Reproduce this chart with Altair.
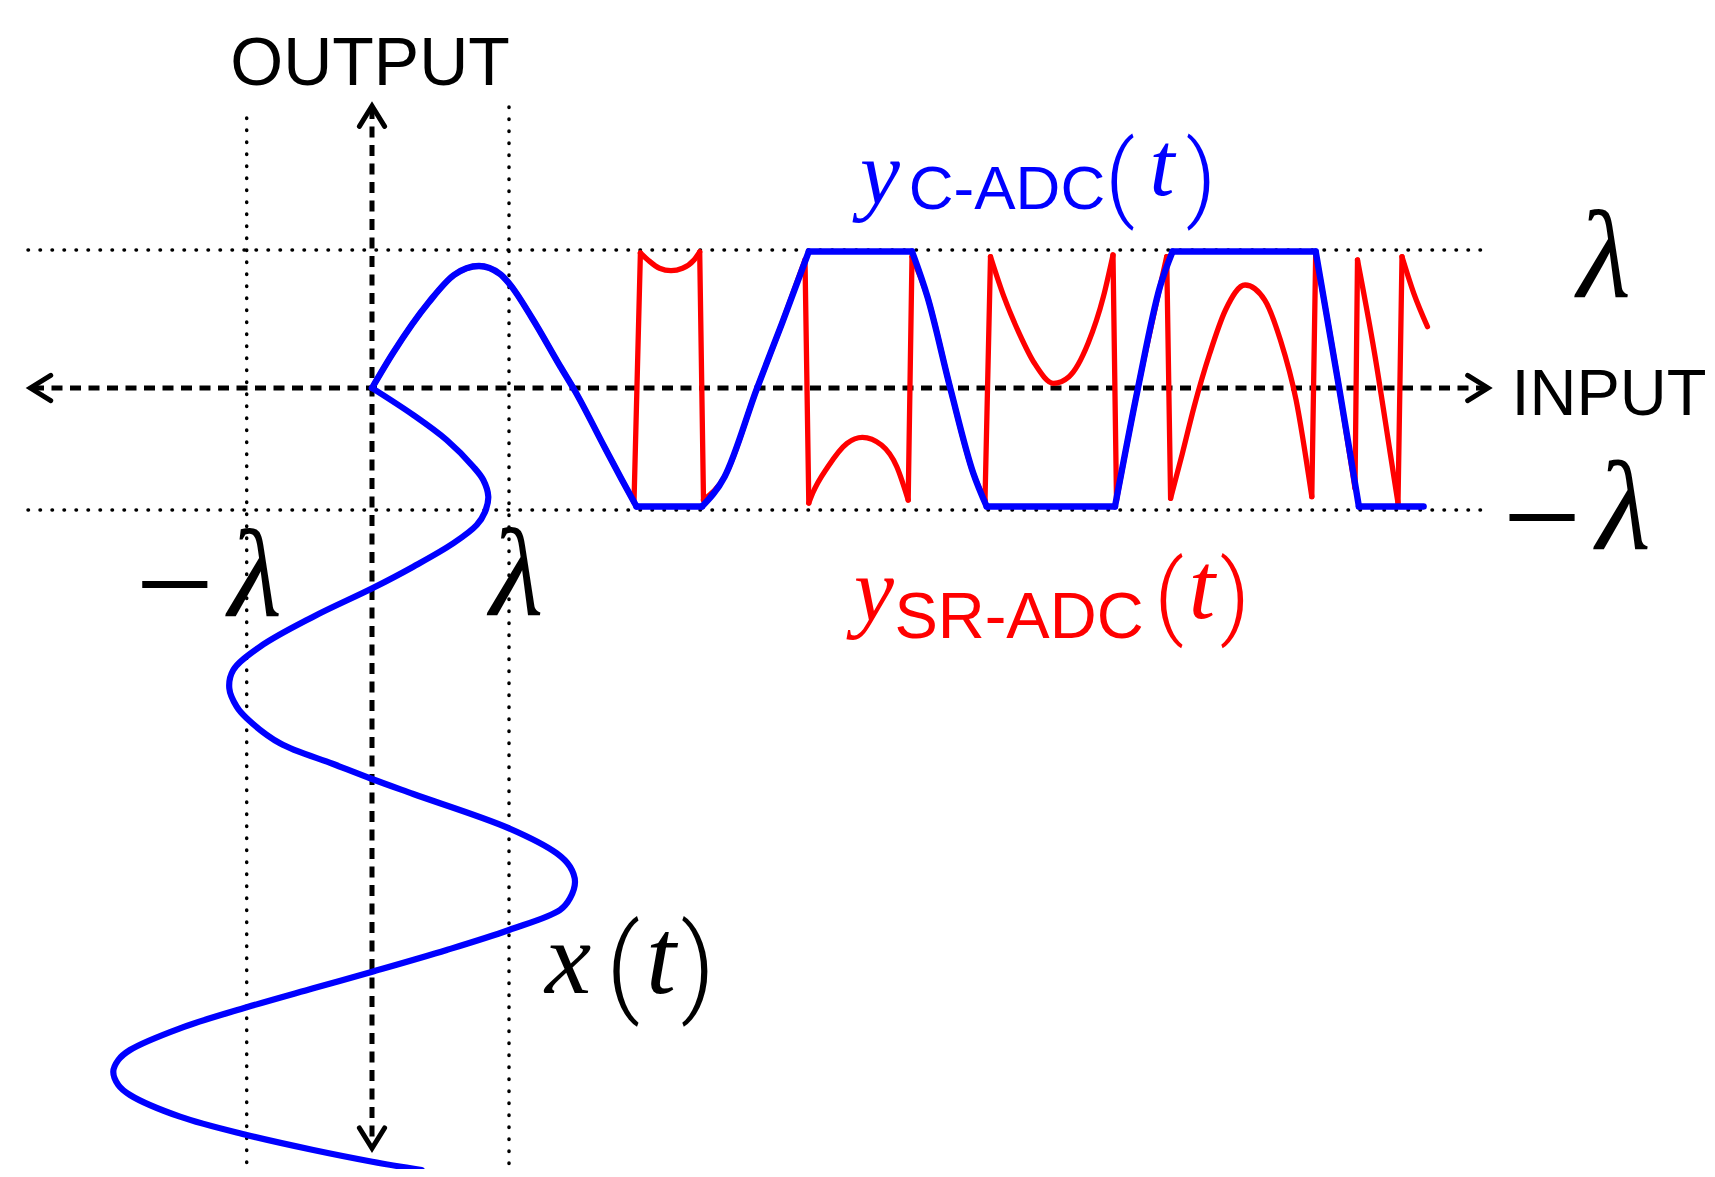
import altair as alt
import pandas as pd

# ---------------- data (diagram units: origin at the axes crossing, 1 unit = 1 px of the reference) ----------
LAM_POS_OUT = 138.0    # +lambda level on the output axis
LAM_NEG_OUT = -122.0   # -lambda level on the output axis
LAM_POS_IN = 137.0     # +lambda level on the input axis
LAM_NEG_IN = -125.3    # -lambda level on the input axis

# input x(t): value (to the right) against time (running downwards)
IN_VALUE = [0, 41.3, 74.7, 101.3, 111.3, 116.3, 113, 104.7, 81.3, 41.3, 0.3, -58.7, -112, -138.7, -142.7,
            -135.3, -125.3, -92, -38.7, 0, 41.3, 137, 184.7, 198, 203, 198, 188, 137, 74.7, 0.3, -58.7,
            -125.3, -192, -242, -253.7, -258.7, -253.7, -242, -192, -125.3, -58.7, 0.3, 49.7]
IN_TIME = [0, 27, 52, 78.7, 92, 108.7, 124, 137, 155.3, 178.7, 200.3, 228.7, 258.7, 282, 300.3,
           318.7, 330.3, 355.3, 376, 391, 406, 440.3, 465.3, 478.7, 493.7, 510.3, 522, 542, 562, 583.7, 600.3,
           619.3, 640.3, 662, 672, 683.7, 697, 707, 728.7, 747, 762, 773.7, 782]

# clipped output y_C-ADC(t)
CADC_T = [0, 21, 57, 82, 107, 128, 137, 160, 188, 203, 233, 250, 264.5, 330, 352.6, 385, 410, 436.8,
          540, 555.4, 578.3, 601.3, 614.7, 743, 765.9, 788, 800.6, 943.7, 967.2, 986.9, 1051.6]
CADC_V = [0, 35, 86, 113, 122, 114, 104.7, 70, 22, -3, -60, -92, -118.5, -118.5, -88.7, -0.3, 64.7, 136.5,
          136.5, 91.3, -0.3, -85.3, -118.5, -118.5, -0.3, 101.3, 136.5, 136.5, -0.3, -118.5, -118.5]
CADC_CORNERS = [12, 13, 17, 18, 22, 23, 26, 27, 29]

# folded output y_SR-ADC(t)
SR_T = [0, 21, 57, 82, 107, 128, 137, 160, 188, 203, 233, 250, 262, 268.4, 276, 287.5, 299, 310.5, 322,
        327.7, 331.5, 352.6, 385, 410, 433, 436.8, 440.6, 455.9, 475, 490.3, 509.5, 524.8, 536.2, 540,
        555.4, 578.3, 601.3, 613, 618.5, 631.9, 647.2, 662.5, 681.7, 697, 716.1, 731.4, 741, 744.5,
        765.9, 788, 794.7, 798.6, 810.4, 822.1, 837.8, 853.5, 873.1, 892.7, 908.4, 924.1, 939.8, 943.7,
        967.2, 983, 985.5, 1002.5, 1018.2, 1026, 1030, 1041.8, 1055.5]
SR_V = [0, 35, 86, 113, 122, 114, 104.7, 70, 22, -3, -60, -92, -114, 135, 128, 119.7, 117.3, 119.7, 128,
        136, -112, -88.7, -0.3, 64.7, 128, -115, -105.3, -78.7, -55.3, -49.3, -57, -78.7, -112, 131.3,
        91.3, -0.3, -85.3, -112, 131.3, 91.3, 54.7, 24.7, 4.7, 11.3, 44.7, 91.3, 133, -112,
        -0.3, 101.3, 131.3, -110.3, -65.3, -18.7, 34.7, 78, 103, 88, 48, -12, -108.7, 134.7,
        -0.3, -100, 128, 35, -65, -115, 131.3, 94.7, 61.3]
SR_CORNERS = [12, 13, 19, 20, 24, 25, 32, 33, 37, 38, 46, 47, 50, 51, 60, 61, 63, 64, 67, 68]

# ---------------- helpers ----------------
XS = alt.Scale(domain=[-364, 1335], nice=False, zero=False)
YS = alt.Scale(domain=[-781, 380], nice=False, zero=False)


def ex(f):
    return alt.X(f, type="quantitative", scale=XS, axis=None)


def ey(f):
    return alt.Y(f, type="quantitative", scale=YS, axis=None)


def pieces(ts, vs, corners, name):
    cuts = [0] + corners + [len(ts) - 1]
    rows = []
    for k in range(len(cuts) - 1):
        a, b = cuts[k], cuts[k + 1]
        for i in range(a, b + 1):
            rows.append({"t": ts[i], "v": vs[i], "seg": f"{name}{k}", "i": i})
    return pd.DataFrame(rows)


# ---------------- guide lines ----------------
dotted_df = pd.DataFrame([
    {"x": -344, "x2": 1111, "y": LAM_POS_OUT, "y2": LAM_POS_OUT},
    {"x": -344, "x2": 1111, "y": LAM_NEG_OUT, "y2": LAM_NEG_OUT},
    {"x": LAM_NEG_IN, "x2": LAM_NEG_IN, "y": 270, "y2": -777},
    {"x": LAM_POS_IN, "x2": LAM_POS_IN, "y": 281, "y2": -790},
])
dotted = alt.Chart(dotted_df).mark_rule(
    color="black", strokeWidth=3.5, strokeDash=[0.5, 11.5], strokeCap="round"
).encode(x=ex("x"), x2="x2", y=ey("y"), y2="y2")

dashed_df = pd.DataFrame([
    {"x": -339, "x2": 1114, "y": 0, "y2": 0},
    {"x": 0, "x2": 0, "y": 280, "y2": -758},
])
dashed = alt.Chart(dashed_df).mark_rule(
    color="black", strokeWidth=5, strokeDash=[11, 7.5]
).encode(x=ex("x"), x2="x2", y=ey("y"), y2="y2")

arrow_df = pd.DataFrame([
    {"x": -341.6, "y": 0, "a": 270},
    {"x": 1116, "y": 0, "a": 90},
    {"x": 0, "y": 282, "a": 0},
    {"x": 0, "y": -760.3, "a": 180},
])
arrows = alt.Chart(arrow_df).mark_point(
    shape="M -0.62 1 L 0 0 L 0.62 1", filled=False, size=1650, color="black",
    strokeWidth=5, opacity=1, strokeJoin="miter", strokeCap="round"
).encode(x=ex("x"), y=ey("y"), angle=alt.Angle("a:Q", scale=None))

# ---------------- curves ----------------
red_df = pieces(SR_T, SR_V, SR_CORNERS, "r")
blue_df = pieces(CADC_T, CADC_V, CADC_CORNERS, "b")
in_df = pd.DataFrame({"val": IN_VALUE, "y": [-t for t in IN_TIME], "i": list(range(len(IN_TIME)))})

red = alt.Chart(red_df).mark_line(
    color="#ff0000", strokeWidth=5.3, interpolate="monotone", strokeCap="round", strokeJoin="round"
).encode(x=ex("t"), y=ey("v"), detail="seg:N", order="i:Q")

blue = alt.Chart(blue_df).mark_line(
    color="#0000ff", strokeWidth=6.4, interpolate="monotone", strokeCap="round", strokeJoin="round"
).encode(x=ex("t"), y=ey("v"), detail="seg:N", order="i:Q")

inp = alt.Chart(in_df).mark_line(
    color="#0000ff", strokeWidth=6.2, interpolate="catmull-rom", strokeCap="round"
).encode(x=ex("val"), y=ey("y"), order="i:Q")

# ---------------- texts ----------------
BLK, BLU, RED = "#000000", "#0000ff", "#ff0000"
sans_df = pd.DataFrame([
    {"x": -2, "y": 303, "s": "OUTPUT", "fs": 68, "c": BLK},
    {"x": 1237, "y": -27, "s": "INPUT", "fs": 65, "c": BLK},
    {"x": 635, "y": 179, "s": "C-ADC", "fs": 62, "c": BLU},
    {"x": 647, "y": -250, "s": "SR-ADC", "fs": 65, "c": RED},
])
ital_df = pd.DataFrame([
    {"x": 1232, "y": 91, "s": "λ", "fs": 124, "c": BLK},
    {"x": 1251.5, "y": -161, "s": "λ", "fs": 126, "c": BLK},
    {"x": -117, "y": -228, "s": "λ", "fs": 124, "c": BLK},
    {"x": 144.7, "y": -227, "s": "λ", "fs": 124, "c": BLK},
    {"x": 508, "y": 184, "s": "y", "fs": 90, "c": BLU},
    {"x": 790, "y": 193, "s": "t", "fs": 90, "c": BLU},
    {"x": 502, "y": -233, "s": "y", "fs": 90, "c": RED},
    {"x": 830, "y": -230, "s": "t", "fs": 95, "c": RED},
    {"x": 196, "y": -605, "s": "x", "fs": 104, "c": BLK},
    {"x": 289, "y": -605, "s": "t", "fs": 108, "c": BLK},
])
up_df = pd.DataFrame([
    {"x": 748, "y": 179, "s": "(", "fs": 94, "c": BLU},
    {"x": 829, "y": 179, "s": ")", "fs": 94, "c": BLU},
    {"x": 797, "y": -239, "s": "(", "fs": 93, "c": RED},
    {"x": 863, "y": -239, "s": ")", "fs": 93, "c": RED},
    {"x": 251, "y": -613.7, "s": "(", "fs": 107, "c": BLK},
    {"x": 326, "y": -613.7, "s": ")", "fs": 107, "c": BLK},
])
minus_df = pd.DataFrame([
    {"x": 1170, "y": -176, "s": "\u2212", "fs": 140, "c": BLK},
    {"x": -197.3, "y": -243, "s": "\u2212", "fs": 140, "c": BLK},
])


def text_layer(df, font, style, weight="normal"):
    return alt.Chart(df).mark_text(
        font=font, fontStyle=style, fontWeight=weight, align="center", baseline="alphabetic"
    ).encode(
        x=ex("x"), y=ey("y"), text="s:N",
        size=alt.Size("fs:Q", scale=None), color=alt.Color("c:N", scale=None),
    )


texts = [
    text_layer(sans_df, "Liberation Sans", "normal"),
    text_layer(ital_df, "Liberation Serif", "italic"),
    text_layer(up_df, "Roboto", "normal", 300),
    text_layer(minus_df, "Liberation Serif", "normal"),
]

chart = alt.layer(dotted, dashed, arrows, red, blue, inp, *texts).properties(
    width=1699, height=1161, padding=0, autosize=alt.AutoSizeParams(type="none"), background="white"
).configure_view(strokeWidth=0)

chart.save("out.html", embed_options={"renderer": "svg", "actions": False})
